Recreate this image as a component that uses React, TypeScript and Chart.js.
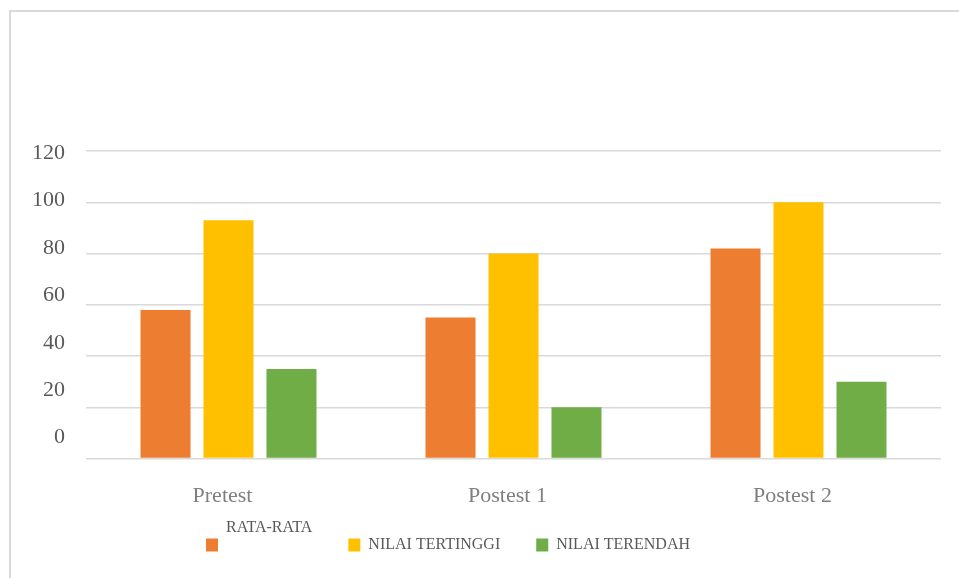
import React, { useEffect, useRef } from "react";
import { Chart, registerables } from "chart.js";

Chart.register(...registerables);

const categories = ["Pretest", "Postest 1", "Postest 2"];
const seriesNames = ["RATA-RATA", "NILAI TERTINGGI", "NILAI TERENDAH"];
const rataRata = [58, 55, 82];
const nilaiTertinggi = [93, 80, 100];
const nilaiTerendah = [35, 20, 30];
const yTickValues = [0, 20, 40, 60, 80, 100, 120];

const FONT = '"Liberation Serif", "Times New Roman", serif';
const COLORS = ["#ED7D31", "#FFC000", "#70AD47"];
const LEGEND_FONT_SIZE = 16;
const LEGEND_BOX_W = 12;
const LEGEND_BOX_H = 13;
const LEGEND_SHIFT_X = -28;
const LEGEND_SHIFT_Y = -8;
// label axis range so that y labels sit where the reference draws them
const LABEL_AXIS_MIN = -8.8;
const LABEL_AXIS_MAX = 120.8;

export default function App() {
  const canvasRef = useRef<HTMLCanvasElement | null>(null);

  useEffect(() => {
    const canvas = canvasRef.current;
    if (!canvas) return;

    const legendTweaks = {
      id: "legendTweaks",
      afterLayout(chart: any) {
        const lg = chart.legend;
        if (lg) {
          lg.left += LEGEND_SHIFT_X;
          lg.right += LEGEND_SHIFT_X;
          lg.top += LEGEND_SHIFT_Y;
          lg.bottom += LEGEND_SHIFT_Y;
        }
      },
      afterDraw(chart: any) {
        const lg = chart.legend;
        if (!lg || !lg.legendHitBoxes || !lg.legendHitBoxes.length) return;
        const hb = lg.legendHitBoxes[0];
        const item = lg.legendItems[0];
        const ctx = chart.ctx;
        const itemHeight = Math.max(LEGEND_BOX_H, LEGEND_FONT_SIZE);
        const lineHeight = LEGEND_FONT_SIZE * 1.1;
        ctx.save();
        ctx.font = `${LEGEND_FONT_SIZE}px ${FONT}`;
        ctx.fillStyle = "#595959";
        ctx.textAlign = "left";
        ctx.textBaseline = "middle";
        ctx.fillText(
          item.text,
          hb.left + LEGEND_BOX_W + LEGEND_FONT_SIZE / 2,
          hb.top + itemHeight / 2 - lineHeight
        );
        ctx.restore();
      },
    };

    const chart = new Chart(canvas, {
      type: "bar",
      data: {
        labels: categories,
        datasets: [
          { label: seriesNames[0], data: rataRata, backgroundColor: COLORS[0], borderWidth: 0 },
          { label: seriesNames[1], data: nilaiTertinggi, backgroundColor: COLORS[1], borderWidth: 0 },
          { label: seriesNames[2], data: nilaiTerendah, backgroundColor: COLORS[2], borderWidth: 0 },
        ],
      },
      options: {
        animation: false,
        responsive: false,
        maintainAspectRatio: false,
        layout: { padding: { left: 11, right: 18, top: 151, bottom: 7 } },
        datasets: {
          bar: { categoryPercentage: 0.663, barPercentage: 0.794 },
        },
        scales: {
          x: {
            grid: { display: false, drawTicks: false },
            border: { display: false },
            ticks: {
              color: "#7F7F7F",
              font: { family: FONT, size: 22 },
              padding: 24,
              labelOffset: -6,
            },
            afterFit: (scale: any) => {
              // no extra padding below the category labels
              scale.height -= scale.options.ticks.padding;
            },
          },
          y: {
            position: "left",
            min: yTickValues[0],
            max: yTickValues[yTickValues.length - 1],
            ticks: { display: false, stepSize: 20 },
            grid: { color: "#D9D9D9", lineWidth: 1.5, drawTicks: false },
            border: { display: false },
            afterBuildTicks: (scale: any) => {
              scale.ticks = yTickValues.map((v) => ({ value: v }));
            },
          },
          yLabels: {
            position: "left",
            min: LABEL_AXIS_MIN,
            max: LABEL_AXIS_MAX,
            grid: { display: false, drawTicks: false },
            border: { display: false },
            ticks: {
              color: "#595959",
              font: { family: FONT, size: 22 },
              padding: 21,
            },
            afterBuildTicks: (scale: any) => {
              scale.ticks = yTickValues.map((v) => ({ value: v }));
            },
          },
        },
        plugins: {
          title: { display: false },
          tooltip: { enabled: false },
          legend: {
            display: true,
            position: "bottom",
            labels: {
              boxWidth: LEGEND_BOX_W,
              boxHeight: LEGEND_BOX_H,
              padding: 36,
              color: "#595959",
              font: { family: FONT, size: LEGEND_FONT_SIZE },
              generateLabels: (ch: any) => {
                const items = (Chart.defaults.plugins.legend.labels as any).generateLabels(ch);
                if (items.length) items[0].fontColor = "rgba(0,0,0,0)";
                return items;
              },
            },
          },
        },
      },
      plugins: [legendTweaks],
    } as any);

    return () => chart.destroy();
  }, []);

  return (
    <div
      style={{
        position: "fixed",
        left: 0,
        top: 0,
        width: 959,
        height: 578,
        overflow: "hidden",
        background: "#FFFFFF",
      }}
    >
      <div
        style={{
          position: "absolute",
          left: 9,
          top: 10,
          width: 1000,
          height: 620,
          borderLeft: "2px solid #D9D9D9",
          borderTop: "2px solid #D9D9D9",
        }}
      />
      <canvas
        ref={canvasRef}
        width={959}
        height={578}
        style={{ position: "absolute", left: 0, top: 0, width: 959, height: 578 }}
      />
    </div>
  );
}
